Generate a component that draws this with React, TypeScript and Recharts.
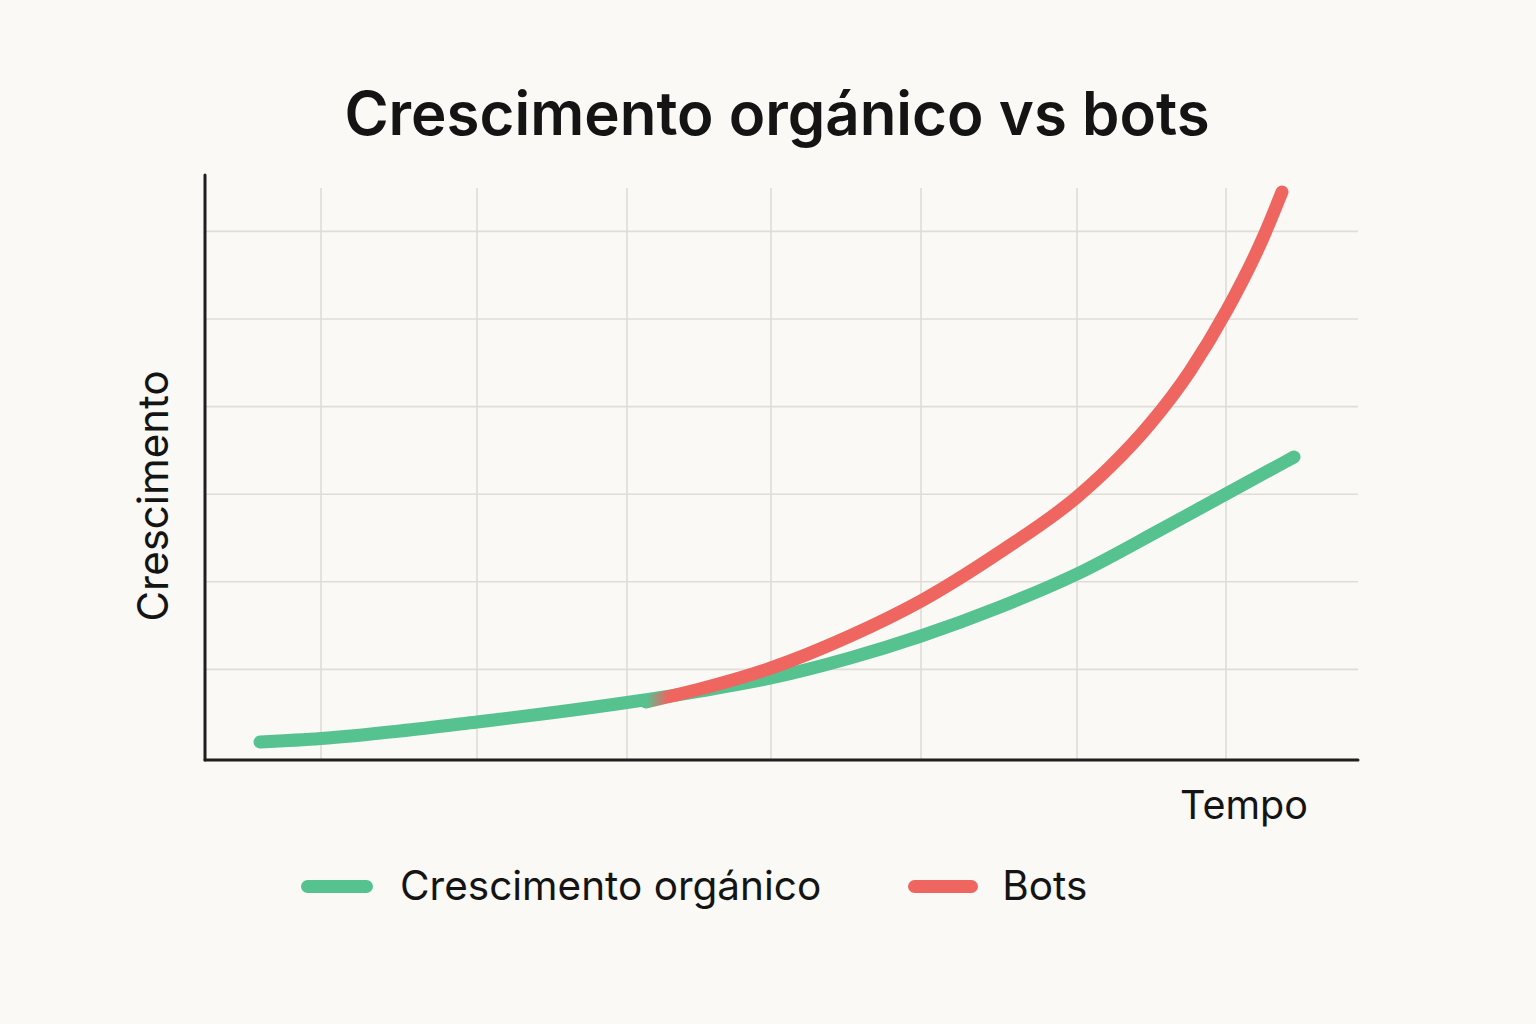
import React from 'react';
import { LineChart, Line, XAxis, YAxis, CartesianGrid, ReferenceLine } from 'recharts';

const organicTime = [0.55, 1.16, 1.95, 2.72, 3.45, 4.22, 4.95, 5.66, 6.45, 7.16, 7.95, 8.72, 9.55, 10.21, 10.89];
const organicValues = [0.171, 0.211, 0.297, 0.4, 0.502, 0.622, 0.753, 0.902, 1.13, 1.381, 1.712, 2.089, 2.591, 3.002, 3.425];

const botsTime = [4.41, 4.95, 5.66, 6.45, 7.16, 7.95, 8.72, 9.05, 9.45, 9.85, 10.22, 10.58, 10.77];
const botsValues = [0.628, 0.776, 1.016, 1.381, 1.781, 2.34, 2.968, 3.311, 3.801, 4.406, 5.103, 5.925, 6.45];

const xGridTicks = [1.16, 2.72, 4.22, 5.66, 7.16, 8.72, 10.21];
const yGridTicks = [1, 2, 3, 4, 5, 6];

const X_DOMAIN: [number, number] = [0, 11.53];
const Y_DOMAIN: [number, number] = [-0.034, 6.495];
const Y_AXIS_TOP = 6.644;

const seriesNames = ['Crescimento orgánico', 'Bots'];
const titleText = 'Crescimento orgánico vs bots';
const xLabel = 'Tempo';
const yLabel = 'Crescimento';

const organicData = organicTime.map((t, i) => ({ t, v: organicValues[i] }));
const botsData = botsTime.map((t, i) => ({ t, v: botsValues[i] }));

const GREEN = '#56C28F';
const RED = '#EF6560';
const BG = '#FAF9F5';
const INK = '#1E1F1F';
const FONT = 'Inter, "Noto Sans", sans-serif';

const scaleOf = (axis: any, fallback: (v: number) => number) =>
  axis && typeof axis.scale === 'function' ? (v: number) => axis.scale(v) : fallback;

const vGen = (props: any) => {
  const { xAxis, offset } = props;
  const fb = (v: number) => offset.left + ((v - X_DOMAIN[0]) / (X_DOMAIN[1] - X_DOMAIN[0])) * offset.width;
  const s = scaleOf(xAxis, fb);
  return xGridTicks.map((t) => s(t));
};
const hGen = (props: any) => {
  const { yAxis, offset } = props;
  const fb = (v: number) => offset.top + offset.height - ((v - Y_DOMAIN[0]) / (Y_DOMAIN[1] - Y_DOMAIN[0])) * offset.height;
  const s = scaleOf(yAxis, fb);
  return yGridTicks.map((t) => s(t));
};

export default function App() {
  return (
    <div style={{ position: 'absolute', left: 0, top: 0, width: 1536, height: 1024, background: BG, fontFamily: FONT }}>
      <LineChart width={1536} height={1024} margin={{ top: 188, left: 205, right: 178, bottom: 264 }}>
        <defs>
          <linearGradient id="botsGrad" x1="0" y1="0" x2="1" y2="0">
            <stop offset="0" stopColor={GREEN} stopOpacity={1} />
            <stop offset="0.035" stopColor={RED} stopOpacity={1} />
            <stop offset="1" stopColor={RED} stopOpacity={1} />
          </linearGradient>
        </defs>
        <CartesianGrid
          stroke="#DEDDD8"
          strokeWidth={1.6}
          verticalCoordinatesGenerator={vGen}
          horizontalCoordinatesGenerator={hGen}
        />
        <XAxis
          type="number"
          dataKey="t"
          domain={X_DOMAIN}
          ticks={xGridTicks}
          height={0}
          tick={false}
          tickLine={false}
          axisLine={false}
        />
        <YAxis
          type="number"
          dataKey="v"
          domain={Y_DOMAIN}
          ticks={yGridTicks}
          width={0}
          tick={false}
          tickLine={false}
          axisLine={false}
        />
        <ReferenceLine
          segment={[{ x: X_DOMAIN[0], y: Y_DOMAIN[0] }, { x: X_DOMAIN[1], y: Y_DOMAIN[0] }]}
          stroke={INK}
          strokeWidth={3}
          strokeLinecap="round"
          ifOverflow="visible"
        />
        <ReferenceLine
          segment={[{ x: X_DOMAIN[0], y: Y_DOMAIN[0] }, { x: X_DOMAIN[0], y: Y_AXIS_TOP }]}
          stroke={INK}
          strokeWidth={3}
          strokeLinecap="round"
          ifOverflow="visible"
        />
        <Line
          data={organicData}
          dataKey="v"
          type="monotone"
          stroke={GREEN}
          strokeWidth={13}
          strokeLinecap="round"
          strokeLinejoin="round"
          dot={false}
          activeDot={false}
          isAnimationActive={false}
        />
        <Line
          data={botsData}
          dataKey="v"
          type="monotone"
          stroke="url(#botsGrad)"
          strokeWidth={13}
          strokeLinecap="round"
          strokeLinejoin="round"
          dot={false}
          activeDot={false}
          isAnimationActive={false}
        />
      </LineChart>
      <div
        style={{
          position: 'absolute',
          left: 301,
          top: 866,
          height: 40,
          display: 'flex',
          alignItems: 'center',
          fontFamily: FONT,
          fontSize: 40.5,
          color: '#141414',
        }}
      >
        <div style={{ width: 72, height: 13, borderRadius: 6.5, background: GREEN }} />
        <span style={{ marginLeft: 27, lineHeight: 1 }}>{seriesNames[0]}</span>
        <div style={{ width: 70, height: 13, borderRadius: 6.5, background: RED, marginLeft: 87 }} />
        <span style={{ marginLeft: 24, lineHeight: 1 }}>{seriesNames[1]}</span>
      </div>
      <svg width={1536} height={1024} style={{ position: 'absolute', left: 0, top: 0, pointerEvents: 'none' }}>
        <text x={777} y={135} textAnchor="middle" fontFamily={FONT} fontSize={60} fontWeight={600} fill="#141414">
          {titleText}
        </text>
        <text x={1244} y={819} textAnchor="middle" fontFamily={FONT} fontSize={39.5} fill="#141414">
          {xLabel}
        </text>
        <text
          x={0}
          y={0}
          transform="translate(168,496) rotate(-90)"
          textAnchor="middle"
          fontFamily={FONT}
          fontSize={42}
          fill="#141414"
        >
          {yLabel}
        </text>
      </svg>
    </div>
  );
}
